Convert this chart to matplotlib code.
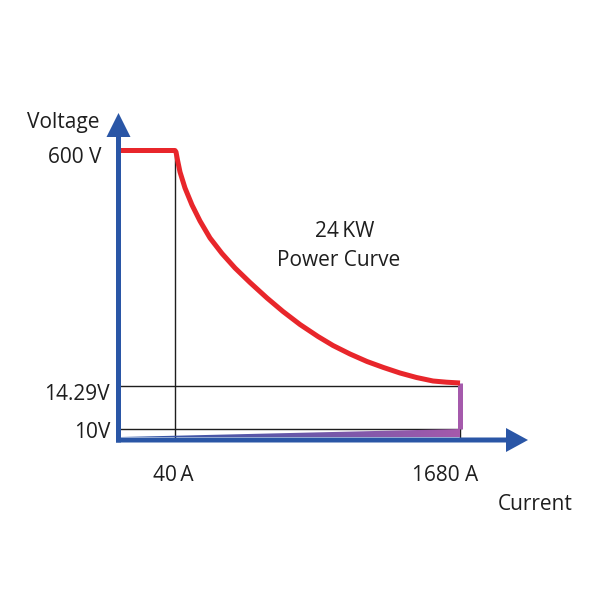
# Power supply operating envelope - 24 kW power curve sketch
# Schematic axes: units are drawing units measured from the axis corner

import matplotlib
matplotlib.use('Agg')
import matplotlib.pyplot as plt
import numpy as np
from matplotlib.patches import Polygon

# tick positions on the schematic axes and their labels
current_ticks = [56, 341.5]
current_labels = ['40\u2009A', '1680 A']
voltage_ticks = [289.5, 54, 11]
voltage_labels = ['600 V', '14.29V', '10V']

# constant voltage segment then the constant power curve
curve_x = [2.5, 56.5, 57.5, 59, 61.5, 66.5, 73.5, 81.5, 91.5, 103.5, 116.5,
           131.5, 148.5, 164.5, 181.5, 199.5, 214.5, 231.5, 248.5, 265,
           281.5, 298, 314.5, 328, 341.5]
curve_y = [289.5, 289.5, 288, 280, 268, 252, 235, 219, 202, 186.5, 172,
           157.5, 142, 128.5, 115.5, 103.5, 94.5, 86, 78.5, 72.5,
           67, 62.5, 59, 57.8, 57]

# constant current edge at 1680 A and the 10 V floor
cc_x = [341.5, 341.5]
cc_y = [57, 11]
floor_x = [2.5, 341.5]
floor_y = [3, 11]

blue = '#2a56a6'
red = '#e8262b'
purple = '#a55aac'
ink = '#1e1e1e'

plt.rcParams['font.family'] = ['Open Sans', 'DejaVu Sans']

fig = plt.figure(figsize=(6, 6), dpi=100)
ax = fig.add_axes([0, 0, 1, 1])
ax.set_xlim(-118.5, 481.5)
ax.set_ylim(-160, 440)
ax.axis('off')

# thin guide lines
ax.plot([current_ticks[0]] * 2, [0, voltage_ticks[0]], color=ink, lw=1.0, zorder=1)
ax.plot([0, current_ticks[1]], [voltage_ticks[1]] * 2, color=ink, lw=1.0, zorder=1)
ax.plot([-1, current_ticks[1]], [voltage_ticks[2]] * 2, color=ink, lw=1.0, zorder=1)
ax.plot([current_ticks[1]] * 2, [0, voltage_ticks[2]], color=ink, lw=1.0, zorder=1)

# 10 V floor wedge with blue -> purple gradient
wedge = Polygon([[floor_x[0], 2.5], [floor_x[1], 2.5], [floor_x[1], floor_y[1]],
                 [floor_x[0], floor_y[0]]], closed=True, facecolor='none', edgecolor='none')
ax.add_patch(wedge)
grad = ax.imshow(np.linspace(0, 1, 256).reshape(1, -1),
                 cmap=matplotlib.colors.LinearSegmentedColormap.from_list('bp', [blue, purple]),
                 extent=[floor_x[0], floor_x[1], 2.5, floor_y[1]], aspect='auto',
                 origin='lower', zorder=2)
grad.set_clip_path(wedge)

# curves
ax.plot(cc_x, cc_y, color=purple, lw=3.6, solid_capstyle='butt', zorder=3)
ax.plot(curve_x, curve_y, color=red, lw=3.6, solid_joinstyle='round',
        solid_capstyle='butt', zorder=4)

# axes arrows
ax.arrow(0, -2.5, 0, 329.5, width=5, head_width=24, head_length=24,
         length_includes_head=True, color=blue, lw=0, zorder=5)
ax.arrow(-2.5, 0, 412, 0, width=5, head_width=24, head_length=22,
         length_includes_head=True, color=blue, lw=0, zorder=5)

fs = 15
ax.text(-55.5, 312, 'Voltage', fontsize=fs, ha='center', va='baseline', color=ink)
ax.text(417, -70, 'Current', fontsize=fs, ha='center', va='baseline', color=ink)

label_baselines = [277, 40, 2]
label_right = [-16.5, -8.5, -8.5]
for lab, yb, xr in zip(voltage_labels, label_baselines, label_right):
    ax.text(xr, yb, lab, fontsize=fs, ha='right', va='baseline', color=ink)

label_centers = [54.5, 326.5]
for lab, xc in zip(current_labels, label_centers):
    ax.text(xc, -41, lab, fontsize=fs, ha='center', va='baseline', color=ink)

ax.text(226.5, 203, '24\u2009KW', fontsize=fs, ha='center', va='baseline', color=ink)
ax.text(220, 174, 'Power Curve', fontsize=fs, ha='center', va='baseline', color=ink)

fig.savefig('out.png', dpi=100, facecolor='white')
